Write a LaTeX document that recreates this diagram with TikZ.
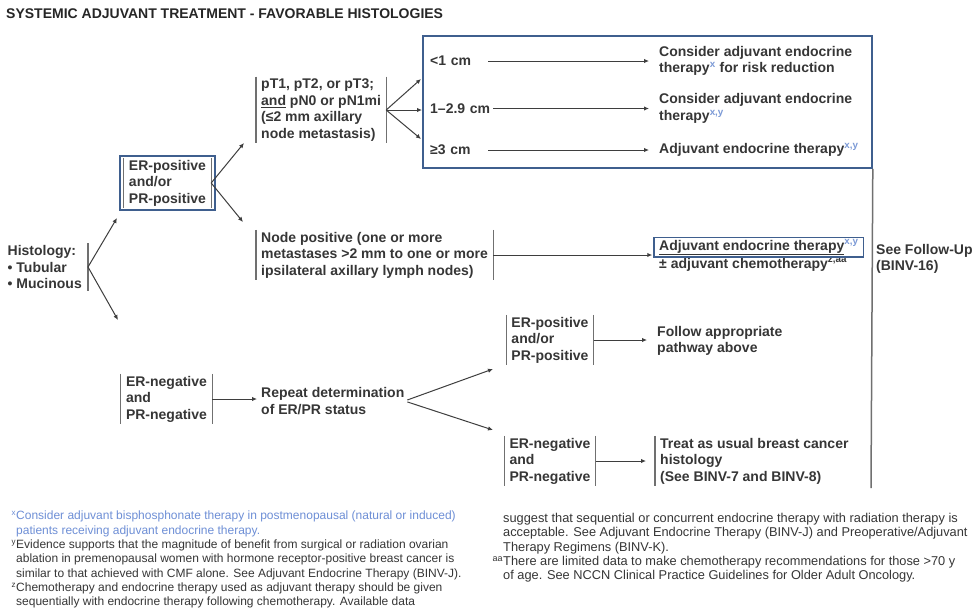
\documentclass[tikz,border=0pt]{standalone}
\usepackage{fontspec}
\setmainfont{Liberation Sans}
\usetikzlibrary{arrows.meta,fit}
\definecolor{txt}{HTML}{363636}
\definecolor{boxblue}{HTML}{3F5F8E}
\definecolor{supblue}{HTML}{7C9AD6}
\definecolor{fnblue}{HTML}{6E8FD6}
\definecolor{linec}{HTML}{3E3E3E}
\definecolor{barc}{HTML}{707070}
\newcommand{\bsup}[1]{\textsuperscript{\textcolor{supblue}{#1}}}
\begin{document}
\begin{tikzpicture}[x=1pt,y=-1pt,
  t/.style={font=\bfseries\fontsize{14}{16.5}\selectfont, text=txt, align=left, inner sep=0pt},
  barline/.style={draw=barc, line width=1.2pt},
  barnode/.style={t, inner xsep=5pt, inner ysep=2pt,
    append after command={(\tikzlastnode.north west) edge[barline] (\tikzlastnode.south west)
      (\tikzlastnode.north east) edge[barline] (\tikzlastnode.south east)}},
  rbarnode/.style={t, inner xsep=6pt, inner ysep=2pt,
    append after command={(\tikzlastnode.north east) edge[barline] (\tikzlastnode.south east)}},
  lbarnode/.style={t, inner xsep=5pt, inner ysep=2pt,
    append after command={(\tikzlastnode.north west) edge[barline] (\tikzlastnode.south west)}},
  bluebox/.style={draw=boxblue, line width=1.8pt},
  arr/.style={-{Latex[length=5pt,width=4.5pt]}, draw=linec, line width=1pt},
  fn/.style={text=txt, align=left, inner sep=0pt, anchor=north west}
]
\useasboundingbox (0,0) rectangle (978,611);
\fill[white] (0,0) rectangle (978,611);

\node[t, anchor=west, text=black!85] (title) at (6,14) {SYSTEMIC ADJUVANT TREATMENT - FAVORABLE HISTOLOGIES};

% histology
\node[rbarnode, anchor=east] (hist) at (88,267) {Histology:\\\textbullet\ Tubular\\\textbullet\ Mucinous};
\coordinate (h1) at (117,218);
\coordinate (h2) at (118,320);
\draw[arr] (hist.east) -- (h1);
\draw[arr] (hist.east) -- (h2);

% ER positive
\node[barnode] (erpos) at (167.5,183) {ER-positive\\and/or\\PR-positive};
\node[bluebox, fit=(erpos), inner xsep=4pt, inner ysep=2pt] (erposbox) {};
\coordinate (e1) at (244,143);
\coordinate (e2) at (243,222);
\draw[arr] (erpos.east) -- (e1);
\draw[arr] (erpos.east) -- (e2);

% pT node
\node[barnode, anchor=west] (pt) at (256,110) {pT1, pT2, or pT3;\\\underline{and} pN0 or pN1mi\\(≤2 mm axillary\\node metastasis)};

% big box
\node[bluebox, anchor=north west, minimum width=449pt, minimum height=132pt, inner sep=0pt] (bigbox) at (422,35) {};
\coordinate (f1) at (421,79);
\coordinate (f3) at (421,139);
\draw[arr] (pt.east) -- (f1);
\draw[arr] (pt.east) -- (pt.east -| bigbox.west);
\draw[arr] (pt.east) -- (f3);

\node[t, anchor=west, text width=58pt] (l1) at (430,61) {<1 cm};
\node[t, anchor=west, text width=58pt] (l2) at (430,108.5) {\mbox{1–2.9 cm}};
\node[t, anchor=west, text width=58pt] (l3) at (430,150) {≥3 cm};
\node[t, anchor=west] (r1) at (659,61) {Consider adjuvant endocrine\\therapy\bsup{x} for risk reduction};
\node[t, anchor=west] (r2) at (659,108.5) {Consider adjuvant endocrine\\therapy\bsup{x,y}};
\node[t, anchor=west] (r3) at (659,150) {Adjuvant endocrine therapy\bsup{x,y}};
\draw[arr, shorten >=10pt] (l1.east) -- (r1.west);
\draw[arr, shorten >=10pt, shorten <=5pt] (l2.east) -- (r2.west);
\draw[arr, shorten >=10pt] (l3.east) -- (r3.west);

% node positive
\node[barnode, anchor=west] (np) at (256,255) {Node positive (one or more\\metastases >2 mm to one or more\\ipsilateral axillary lymph nodes)};
\node[t, anchor=base west] (r4a) at (659,250) {\underline{Adjuvant endocrine therapy}\bsup{x,y}};
\node[t, anchor=base west] (r4b) at (659,268) {± adjuvant chemotherapy\textsuperscript{z,aa}};
\node[draw=boxblue, line width=1.5pt, fit=(r4a), inner xsep=5pt, inner ysep=2pt] (r4box) {};
\draw[arr, shorten >=1pt] (np.east) -- (np.east -| r4box.west);

% follow up
\coordinate (vend) at (871,488);
\draw[draw=barc, line width=1.5pt] (bigbox.south east) -- (vend);
\node[t, anchor=west] (fu) at (876,259) {See Follow-Up\\(BINV-16)};

% ER negative
\node[barnode] (erneg) at (166.5,399) {ER-negative\\and\\PR-negative};
\node[t, anchor=west] (rep) at (261,401) {Repeat determination\\of ER/PR status};
\draw[arr, shorten >=4pt] (erneg.east) -- (erneg.east -| rep.west);
\coordinate (g1) at (493,369);
\coordinate (g2) at (493,430);
\draw[arr, shorten <=3pt] (rep.east) -- (g1);
\draw[arr, shorten <=3pt] (rep.east) -- (g2);

\node[barnode] (erpos2) at (550,340) {ER-positive\\and/or\\PR-positive};
\node[t, anchor=west] (fol) at (657,341) {Follow appropriate\\pathway above};
\draw[arr, shorten >=10pt] (erpos2.east) -- (erpos2.east -| fol.west);

\node[barnode] (erneg2) at (550,461) {ER-negative\\and\\PR-negative};
\node[lbarnode, anchor=west] (treat) at (655,461) {Treat as usual breast cancer\\histology\\(See BINV-7 and BINV-8)};
\draw[arr, shorten >=9pt] (erneg2.east) -- (erneg2.east -| treat.west);

% footnotes
\node[fn, font=\fontsize{12}{14.3}\selectfont] (fnl) at (16,511) {\textcolor{fnblue}{\llap{\textsuperscript{x}}Consider adjuvant bisphosphonate therapy in postmenopausal (natural or induced)}\\
\textcolor{fnblue}{patients receiving adjuvant endocrine therapy.}\\
\llap{\textsuperscript{y}}Evidence supports that the magnitude of benefit from surgical or radiation ovarian\\
ablation in premenopausal women with hormone receptor-positive breast cancer is\\
similar to that achieved with CMF alone. See Adjuvant Endocrine Therapy (BINV-J).\\
\llap{\textsuperscript{z}}Chemotherapy and endocrine therapy used as adjuvant therapy should be given\\
sequentially with endocrine therapy following chemotherapy. Available data};
\node[fn, font=\fontsize{12.8}{14.3}\selectfont] (fnr) at (503,513) {suggest that sequential or concurrent endocrine therapy with radiation therapy is\\
acceptable. See Adjuvant Endocrine Therapy (BINV-J) and Preoperative/Adjuvant\\
Therapy Regimens (BINV-K).\\
\llap{\textsuperscript{aa}}There are limited data to make chemotherapy recommendations for those >70 y\\
of age. See NCCN Clinical Practice Guidelines for Older Adult Oncology.};
\end{tikzpicture}
\end{document}
